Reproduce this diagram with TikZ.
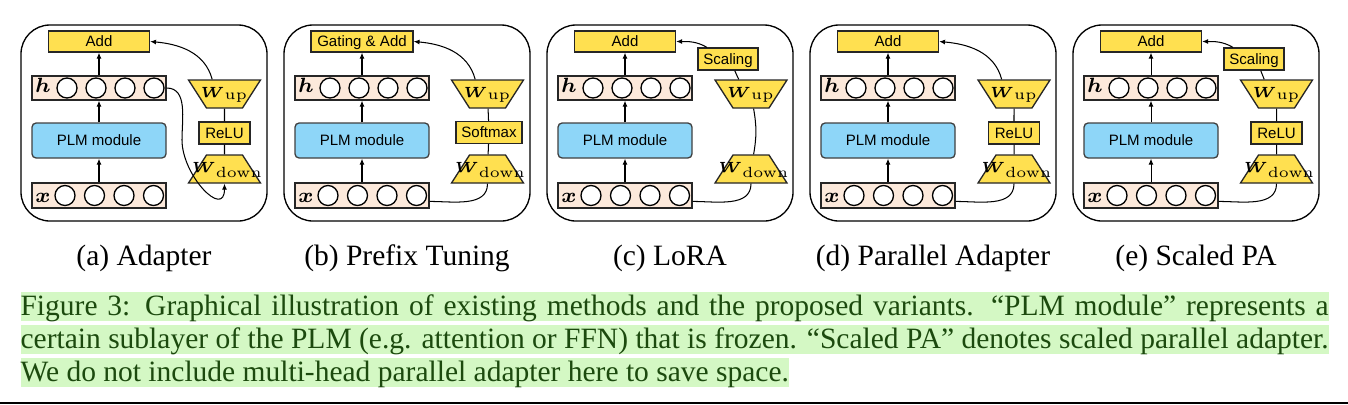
\documentclass[tikz,border=0pt]{standalone}
\usepackage{fix-cm}
\usepackage{amsmath}
\usepackage[no-math]{fontspec}
\setmainfont{Liberation Serif}
\setsansfont{Liberation Sans}
\usetikzlibrary{shapes.geometric,arrows.meta}
\newlength{\pxu}
\setlength{\pxu}{0.339pt}
\definecolor{boxyellow}{RGB}{255,224,80}
\definecolor{plmblue}{RGB}{142,214,248}
\definecolor{cellpeach}{RGB}{252,233,219}
\definecolor{hlgreen}{RGB}{212,248,196}
\definecolor{capgreen}{RGB}{28,74,14}
\tikzset{
  panel/.style={draw=black, line width=0.45pt, rounded corners=9.8pt},
  opbox/.style={draw=black!85, fill=boxyellow, line width=0.45pt, inner sep=0pt,
    minimum height=21\pxu, font=\sffamily\fontsize{5.1}{6}\selectfont,
    text height=3.65pt, text depth=0pt},
  plmbox/.style={draw=black!75, fill=plmblue, line width=0.45pt, rounded corners=1.4pt,
    minimum width=134\pxu, minimum height=35\pxu, inner sep=0pt,
    font=\sffamily\fontsize{5.1}{6}\selectfont, text height=3.65pt, text depth=0pt},
  rowbox/.style={draw=black!85, fill=cellpeach, line width=0.45pt,
    minimum width=134\pxu, inner sep=0pt},
  cell/.style={draw=black, fill=white, line width=0.45pt},
  vecname/.style={inner sep=0pt, anchor=base, font=\fontsize{7}{8}\selectfont},
  wmat/.style={trapezium, draw=black!85, fill=boxyellow, line width=0.45pt, inner sep=0pt,
    trapezium left angle=57.3, trapezium right angle=57.3,
    text height=17\pxu, text depth=11\pxu, font=\fontsize{5}{6}\selectfont},
  wupper/.style={wmat, shape border rotate=180},
  flow/.style={-{Latex[length=2pt,width=1.7pt]}, line width=0.35pt},
  link/.style={line width=0.35pt},
  subcap/.style={anchor=base, inner sep=0pt, font=\fontsize{10}{11}\selectfont},
  capline/.style={anchor=base west, fill=hlgreen, text=capgreen, inner xsep=0pt,
    inner ysep=0pt, text height=23\pxu, text depth=6\pxu, font=\fontsize{10}{11}\selectfont},
}
\begin{document}
\begin{tikzpicture}[x=\pxu, y=\pxu]
	\useasboundingbox (0,0) rectangle (1348,-404);
	% (a) Adapter
	\begin{scope}[shift={(21,0)}]
		\draw[panel] (0,-25) rectangle (246,-221);
		\node[opbox, minimum width=101\pxu] (addA) at (78,-41.5) {Add};
		\node[rowbox, minimum height=24\pxu] (hA) at (78,-88) {};
		\node[plmbox] (plmA) at (78,-140.5) {PLM module};
		\node[rowbox, minimum height=25\pxu] (xA) at (78,-195.5) {};
		\draw[cell] (46,-88) circle[radius=10\pxu] (75,-88) circle[radius=10\pxu] (104,-88) circle[radius=10\pxu] (133,-88) circle[radius=10\pxu];
		\draw[cell] (44,-195.5) circle[radius=10\pxu] (73.5,-195.5) circle[radius=10\pxu] (103,-195.5) circle[radius=10\pxu] (132.5,-195.5) circle[radius=10\pxu];
		\node[vecname] (hnA) at (22,-92.5) {$\boldsymbol{h}$};
		\node[vecname] (xnA) at (22,-202) {$\boldsymbol{x}$};
		\node[wupper] (wupA) at (203.5,-94) {\makebox[36\pxu]{$\boldsymbol{W}_{\mathrm{up}}$}};
		\node[opbox, minimum width=51\pxu, minimum height=22\pxu] (reluA) at (203.5,-133) {ReLU};
		\node[wmat] (wdnA) at (203.5,-169) {\makebox[36\pxu]{\kern6\pxu$\boldsymbol{W}_{\mathrm{down}}$}};
		\coordinate (bendA) at (161,-140);
		\draw[flow] (xA) -- (plmA);
		\draw[flow] (plmA) -- (hA);
		\draw[flow] (hA) -- (addA);
		\draw[link] (wupA) -- (reluA);
		\draw[link] (reluA) -- (wdnA);
		\draw[flow] (hA.east) to[out=0,in=90] (bendA) to[out=-90,in=-90,looseness=1.5] (wdnA.south);
		\draw[flow] (wupA.130) to[out=105,in=-5] (addA.east);
		\node[subcap] (capA) at (123,-265) {(a) Adapter};
	\end{scope}
	% (b) Prefix Tuning
	\begin{scope}[shift={(284,0)}]
		\draw[panel] (0,-25) rectangle (246,-221);
		\node[opbox, minimum width=102\pxu] (addB) at (78,-41.5) {Gating \& Add};
		\node[rowbox, minimum height=24\pxu] (hB) at (78,-88) {};
		\node[plmbox] (plmB) at (78,-140.5) {PLM module};
		\node[rowbox, minimum height=25\pxu] (xB) at (78,-195.5) {};
		\draw[cell] (46,-88) circle[radius=10\pxu] (75,-88) circle[radius=10\pxu] (104,-88) circle[radius=10\pxu] (133,-88) circle[radius=10\pxu];
		\draw[cell] (44,-195.5) circle[radius=10\pxu] (73.5,-195.5) circle[radius=10\pxu] (103,-195.5) circle[radius=10\pxu] (132.5,-195.5) circle[radius=10\pxu];
		\node[vecname] (hnB) at (22,-92.5) {$\boldsymbol{h}$};
		\node[vecname] (xnB) at (22,-202) {$\boldsymbol{x}$};
		\node[wupper] (wupB) at (203.5,-94) {\makebox[36\pxu]{$\boldsymbol{W}_{\mathrm{up}}$}};
		\node[opbox, minimum width=66\pxu, minimum height=22\pxu] (smB) at (205,-132.5) {Softmax};
		\node[wmat] (wdnB) at (203.5,-169) {\makebox[36\pxu]{\kern6\pxu$\boldsymbol{W}_{\mathrm{down}}$}};
		\draw[flow] (xB) -- (plmB);
		\draw[flow] (plmB) -- (hB);
		\draw[flow] (hB) -- (addB);
		\draw[link] (wupB) -- (smB);
		\draw[link] (smB) -- (wdnB);
		\draw[link] (xB.-5) to[out=0,in=-90] (wdnB.south);
		\draw[flow] (wupB.130) to[out=105,in=-5] (addB.east);
		\node[subcap] (capB) at (123,-265) {(b) Prefix Tuning};
	\end{scope}
	% (c) LoRA
	\begin{scope}[shift={(547,0)}]
		\draw[panel] (0,-25) rectangle (246,-221);
		\node[opbox, minimum width=101\pxu] (addC) at (78,-41.5) {Add};
		\node[rowbox, minimum height=24\pxu] (hC) at (78,-88) {};
		\node[plmbox] (plmC) at (78,-140.5) {PLM module};
		\node[rowbox, minimum height=25\pxu] (xC) at (78,-195.5) {};
		\draw[cell] (46,-88) circle[radius=10\pxu] (75,-88) circle[radius=10\pxu] (104,-88) circle[radius=10\pxu] (133,-88) circle[radius=10\pxu];
		\draw[cell] (44,-195.5) circle[radius=10\pxu] (73.5,-195.5) circle[radius=10\pxu] (103,-195.5) circle[radius=10\pxu] (132.5,-195.5) circle[radius=10\pxu];
		\node[vecname] (hnC) at (22,-92.5) {$\boldsymbol{h}$};
		\node[vecname] (xnC) at (22,-202) {$\boldsymbol{x}$};
		\node[opbox, minimum width=60\pxu, minimum height=22\pxu] (scC) at (181,-59) {Scaling};
		\node[wupper] (wupC) at (204,-94) {\makebox[36\pxu]{$\boldsymbol{W}_{\mathrm{up}}$}};
		\node[wmat] (wdnC) at (204,-169) {\makebox[36\pxu]{\kern6\pxu$\boldsymbol{W}_{\mathrm{down}}$}};
		\draw[flow] (xC) -- (plmC);
		\draw[flow] (plmC) -- (hC);
		\draw[flow] (hC) -- (addC);
		\draw[link] (wupC) to[bend left=10] (wdnC);
		\draw[link] (wupC.130) -- (scC.-60);
		\draw[flow] (scC.151) to[out=150,in=0] (addC.east);
		\draw[link] (xC.-5) to[out=0,in=-90] (wdnC.south);
		\node[subcap] (capC) at (123,-265) {(c) LoRA};
	\end{scope}
	% (d) Parallel Adapter
	\begin{scope}[shift={(810,0)}]
		\draw[panel] (0,-25) rectangle (246,-221);
		\node[opbox, minimum width=101\pxu] (addD) at (78,-41.5) {Add};
		\node[rowbox, minimum height=24\pxu] (hD) at (78,-88) {};
		\node[plmbox] (plmD) at (78,-140.5) {PLM module};
		\node[rowbox, minimum height=25\pxu] (xD) at (78,-195.5) {};
		\draw[cell] (46,-88) circle[radius=10\pxu] (75,-88) circle[radius=10\pxu] (104,-88) circle[radius=10\pxu] (133,-88) circle[radius=10\pxu];
		\draw[cell] (44,-195.5) circle[radius=10\pxu] (73.5,-195.5) circle[radius=10\pxu] (103,-195.5) circle[radius=10\pxu] (132.5,-195.5) circle[radius=10\pxu];
		\node[vecname] (hnD) at (22,-92.5) {$\boldsymbol{h}$};
		\node[vecname] (xnD) at (22,-202) {$\boldsymbol{x}$};
		\node[wupper] (wupD) at (204,-94) {\makebox[36\pxu]{$\boldsymbol{W}_{\mathrm{up}}$}};
		\node[opbox, minimum width=51\pxu, minimum height=22\pxu] (reluD) at (204,-133) {ReLU};
		\node[wmat] (wdnD) at (204,-169) {\makebox[36\pxu]{\kern6\pxu$\boldsymbol{W}_{\mathrm{down}}$}};
		\draw[flow] (xD) -- (plmD);
		\draw[flow] (plmD) -- (hD);
		\draw[flow] (hD) -- (addD);
		\draw[link] (wupD) -- (reluD);
		\draw[link] (reluD) -- (wdnD);
		\draw[link] (xD.-5) to[out=0,in=-90] (wdnD.south);
		\draw[flow] (wupD.130) to[out=105,in=-5] (addD.east);
		\node[subcap] (capD) at (123,-265) {(d) Parallel Adapter};
	\end{scope}
	% (e) Scaled PA
	\begin{scope}[shift={(1073,0)}]
		\draw[panel] (0,-25) rectangle (246,-221);
		\node[opbox, minimum width=101\pxu] (addE) at (78,-41.5) {Add};
		\node[rowbox, minimum height=24\pxu] (hE) at (78,-88) {};
		\node[plmbox] (plmE) at (78,-140.5) {PLM module};
		\node[rowbox, minimum height=25\pxu] (xE) at (78,-195.5) {};
		\draw[cell] (46,-88) circle[radius=10\pxu] (75,-88) circle[radius=10\pxu] (104,-88) circle[radius=10\pxu] (133,-88) circle[radius=10\pxu];
		\draw[cell] (44,-195.5) circle[radius=10\pxu] (73.5,-195.5) circle[radius=10\pxu] (103,-195.5) circle[radius=10\pxu] (132.5,-195.5) circle[radius=10\pxu];
		\node[vecname] (hnE) at (22,-92.5) {$\boldsymbol{h}$};
		\node[vecname] (xnE) at (22,-202) {$\boldsymbol{x}$};
		\node[opbox, minimum width=60\pxu, minimum height=22\pxu] (scE) at (181,-59) {Scaling};
		\node[wupper] (wupE) at (203.5,-94) {\makebox[36\pxu]{$\boldsymbol{W}_{\mathrm{up}}$}};
		\node[opbox, minimum width=51\pxu, minimum height=22\pxu] (reluE) at (203.5,-133) {ReLU};
		\node[wmat] (wdnE) at (203.5,-169) {\makebox[36\pxu]{\kern6\pxu$\boldsymbol{W}_{\mathrm{down}}$}};
		\draw[flow] (xE) -- (plmE);
		\draw[flow] (plmE) -- (hE);
		\draw[flow] (hE) -- (addE);
		\draw[link] (wupE) -- (reluE);
		\draw[link] (reluE) -- (wdnE);
		\draw[link] (wupE.130) -- (scE.-60);
		\draw[flow] (scE.151) to[out=150,in=0] (addE.east);
		\draw[link] (xE.-5) to[out=0,in=-90] (wdnE.south);
		\node[subcap] (capE) at (123,-265) {(e) Scaled PA};
	\end{scope}
	% caption
	\node[capline] (cap1) at (20,-315) {\makebox[1308\pxu][s]{Figure 3: Graphical illustration of existing methods and the proposed variants. “PLM module” represents a}};
	\node[capline] (cap2) at (20,-348) {\makebox[1308\pxu][s]{certain sublayer of the PLM (e.g. attention or FFN) that is frozen. “Scaled PA” denotes scaled parallel adapter.}};
	\node[capline] (cap3) at (20,-381) {We do not include multi-head parallel adapter here to save space.};
	\fill (0,-402) rectangle (1348,-404);
\end{tikzpicture}
\end{document}
